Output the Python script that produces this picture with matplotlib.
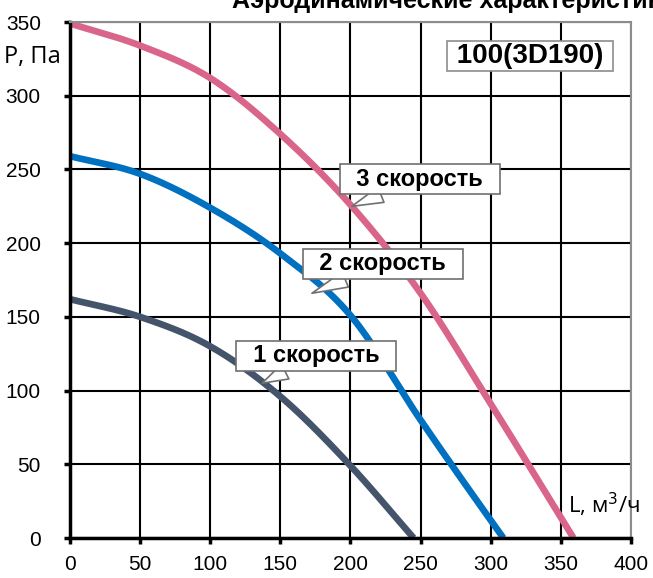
import numpy as np
import matplotlib.pyplot as plt

plt.rcParams['font.family'] = ['Liberation Sans', 'DejaVu Sans']

# flow L, m3/h and pressure P, Pa
l_s1 = [0, 50, 100, 150, 200, 245]
p_s1 = [162, 150, 130, 96, 49, 0]
l_s2 = [0, 50, 100, 150, 200, 250, 300, 309]
p_s2 = [259, 247, 224, 193, 151, 80, 12, 0]
l_s3 = [0, 50, 100, 150, 200, 250, 300, 359]
p_s3 = [349, 334, 312, 274, 226, 166, 91, 0]

x_ticks = [0, 50, 100, 150, 200, 250, 300, 350, 400]
y_ticks = [0, 50, 100, 150, 200, 250, 300, 350]


def smooth(xs, ys, n=300):
    xs = np.array(xs, float)
    ys = np.array(ys, float)
    xx = np.linspace(xs[0], xs[-1], n)
    # cubic hermite through the read points
    yy = np.empty_like(xx)
    m = np.gradient(ys, xs)
    for i, x in enumerate(xx):
        k = min(np.searchsorted(xs, x, side='right') - 1, len(xs) - 2)
        h = xs[k + 1] - xs[k]
        t = (x - xs[k]) / h
        h00 = 2*t**3 - 3*t**2 + 1
        h10 = t**3 - 2*t**2 + t
        h01 = -2*t**3 + 3*t**2
        h11 = t**3 - t**2
        yy[i] = h00*ys[k] + h10*h*m[k] + h01*ys[k+1] + h11*h*m[k+1]
    return xx, yy


fig = plt.figure(figsize=(6.53, 5.78), dpi=100)
ax = fig.add_axes([0.1072, 0.0692, 0.8591, 0.8927])

ax.set_xlim(0, 400)
ax.set_ylim(0, 350)
ax.set_xticks(x_ticks)
ax.set_yticks(y_ticks)
ax.grid(True, color='black', linewidth=1.5)
ax.set_axisbelow(True)

for s in ['top', 'right']:
    ax.spines[s].set_color('#8c8c8c')
    ax.spines[s].set_linewidth(1.5)
for s in ['left', 'bottom']:
    ax.spines[s].set_color('black')
    ax.spines[s].set_linewidth(2.5)
ax.tick_params(axis='both', labelsize=15, length=4, width=2.5, direction='out')
ax.tick_params(axis='y', pad=17)
ax.tick_params(axis='x', pad=8)

ax.plot(*smooth(l_s3, p_s3), color='#d9668a', linewidth=4.8, solid_capstyle='butt')
ax.plot(*smooth(l_s2, p_s2), color='#0070c0', linewidth=4.8, solid_capstyle='butt')
ax.plot(*smooth(l_s1, p_s1), color='#44546a', linewidth=4.8, solid_capstyle='butt')

box = dict(boxstyle='square,pad=0.15', fc='white', ec='#707070', lw=1.2)
arrow = dict(arrowstyle='wedge,tail_width=0.7', fc='white', ec='#707070', lw=1.2,
             shrinkA=0, shrinkB=0)
ax.annotate('  3 скорость  ', xy=(201, 225), xytext=(249.5, 243.5), fontsize=17,
            fontweight='bold', ha='center', va='center', bbox=box, arrowprops=arrow)
ax.annotate('  2 скорость  ', xy=(172.5, 166), xytext=(223, 186), fontsize=17,
            fontweight='bold', ha='center', va='center', bbox=box, arrowprops=arrow)
ax.annotate('  1 скорость  ', xy=(137, 105), xytext=(175.5, 123.5), fontsize=17,
            fontweight='bold', ha='center', va='center', bbox=box, arrowprops=arrow)

ax.text(328, 327, ' 100(3D190) ', fontsize=20, fontweight='bold', ha='center',
        va='center', bbox=dict(boxstyle='square,pad=0.08', fc='white', ec='#8c8c8c', lw=1.2))

fig.text(0.006, 0.901, 'P, Па', fontsize=17, ha='left', va='center', family='Open Sans')
fig.text(0.870, 0.126, 'L, м$^3$/ч', fontsize=16, ha='left', va='center', family='Open Sans')
fig.text(0.355, 0.986, 'Аэродинамические характеристики', fontsize=18,
         fontweight='bold', ha='left', va='baseline')

fig.savefig('out.png', dpi=100)
